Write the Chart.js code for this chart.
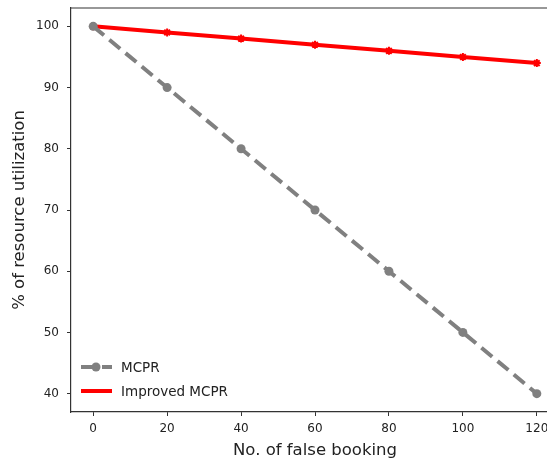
<!DOCTYPE html>
<html>
<head>
<meta charset="utf-8">
<script src="https://cdn.jsdelivr.net/npm/chart.js@4"></script>
<style>
  html, body { margin: 0; padding: 0; background: #fff; overflow: hidden; }
  #wrap { width: 547px; height: 461px; overflow: hidden; }
</style>
</head>
<body>
<div id="wrap"><canvas id="c" width="600" height="461"></canvas></div>
<script>
const falseBookings = [0, 20, 40, 60, 80, 100, 120];
const mcpr = [100, 90, 80, 70, 60, 50, 40];
const improvedMcpr = [100, 99, 98, 97, 96, 95, 94];
const xTicks = [0, 20, 40, 60, 80, 100, 120];
const yTicks = [40, 50, 60, 70, 80, 90, 100];

const FONT = "'DejaVu Sans', sans-serif";

// frame on top + legend inside the plot, matplotlib style
const framePlugin = {
  id: "frame",
  afterDraw(chart) {
    const { ctx, chartArea: a } = chart;
    ctx.save();
    ctx.strokeStyle = "#333";
    ctx.lineWidth = 1.2;
    ctx.beginPath();
    ctx.moveTo(a.left, a.top);
    ctx.lineTo(a.right, a.top);
    ctx.lineTo(a.right, a.bottom);
    ctx.stroke();

    // legend
    const items = chart.data.datasets;
    const x0 = a.left + 10, y0 = a.bottom - 45;
    ctx.font = "13.5px " + FONT;
    ctx.textBaseline = "middle";
    items.forEach((ds, i) => {
      const y = y0 + i * 24;
      ctx.strokeStyle = ds.borderColor;
      ctx.lineWidth = ds.borderWidth;
      ctx.setLineDash(ds.borderDash || []);
      ctx.beginPath();
      ctx.moveTo(x0, y);
      ctx.lineTo(x0 + 31, y);
      ctx.stroke();
      ctx.setLineDash([]);
      ctx.fillStyle = ds.pointBackgroundColor;
      if (ds.pointStyle === "circle") {
        ctx.beginPath();
        ctx.arc(x0 + 15, y, 4.5, 0, Math.PI * 2);
        ctx.fill();
      }
      ctx.fillStyle = "#222";
      ctx.fillText(ds.label, x0 + 40, y + 1);
    });
    ctx.restore();
  }
};

new Chart(document.getElementById("c"), {
  type: "line",
  data: {
    datasets: [
      {
        label: "MCPR",
        data: falseBookings.map((x, i) => ({ x, y: mcpr[i] })),
        borderColor: "#808080",
        backgroundColor: "#808080",
        pointBackgroundColor: "#808080",
        pointBorderColor: "#808080",
        borderWidth: 4,
        borderDash: [14, 7],
        pointStyle: "circle",
        pointRadius: 4.5,
        pointBorderWidth: 0,
        tension: 0
      },
      {
        label: "Improved MCPR",
        data: falseBookings.map((x, i) => ({ x, y: improvedMcpr[i] })),
        borderColor: "#ff0000",
        backgroundColor: "#ff0000",
        pointBackgroundColor: "#ff0000",
        pointBorderColor: "#ff0000",
        borderWidth: 4,
        pointStyle: "star",
        pointRadius: 4,
        pointBorderWidth: 2,
        tension: 0
      }
    ]
  },
  options: {
    responsive: false,
    animation: false,
    layout: { padding: { top: 8, right: 41, left: 0, bottom: 0 } },
    plugins: {
      legend: { display: false },
      tooltip: { enabled: false }
    },
    scales: {
      x: {
        type: "linear",
        min: -6,
        max: 126,
        afterBuildTicks: (s) => { s.ticks = xTicks.map(v => ({ value: v })); },
        afterFit: (s) => { s.height = 49; s.paddingLeft = 0; s.paddingRight = 0; },
        grid: { drawOnChartArea: false, drawTicks: true, tickLength: 4, color: "#333", lineWidth: 1 },
        border: { display: true, color: "#333", width: 1.2 },
        ticks: { color: "#222", font: { family: FONT, size: 12 }, padding: 6, maxRotation: 0 },
        title: { display: true, text: "No. of false booking", color: "#222", font: { family: FONT, size: 16.5 }, padding: { top: 0, bottom: 0 } }
      },
      y: {
        min: 37,
        max: 103,
        afterBuildTicks: (s) => { s.ticks = yTicks.map(v => ({ value: v })); },
        afterFit: (s) => { s.width = 71; s.paddingTop = 0; s.paddingBottom = 0; },
        grid: { drawOnChartArea: false, drawTicks: true, tickLength: 4, color: "#333", lineWidth: 1 },
        border: { display: true, color: "#333", width: 1.2 },
        ticks: { color: "#222", font: { family: FONT, size: 12 }, padding: 8 },
        title: { display: true, text: "% of resource utilization", color: "#222", font: { family: FONT, size: 16.5 }, padding: { top: 10, bottom: 4 } }
      }
    }
  },
  plugins: [framePlugin]
});
</script>
</body>
</html>
